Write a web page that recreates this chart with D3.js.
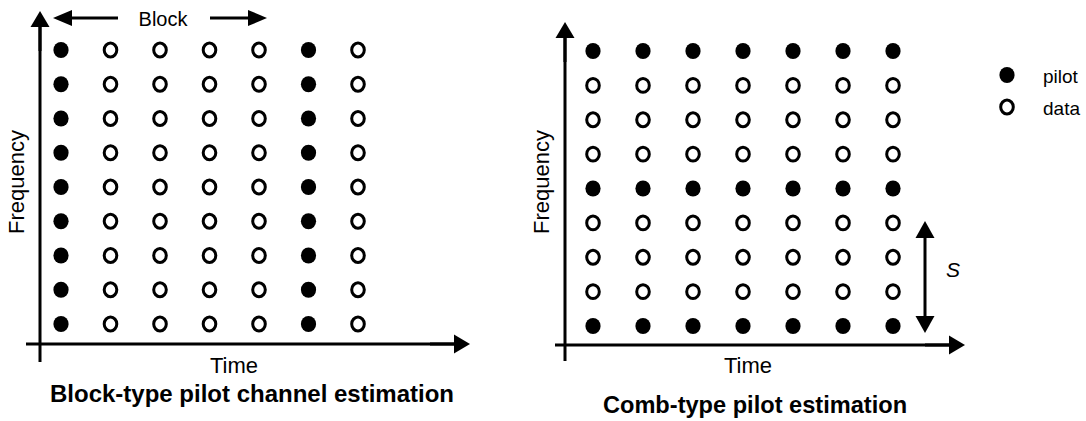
<!DOCTYPE html>
<html>
<head>
<meta charset="utf-8">
<script src="https://cdn.jsdelivr.net/npm/d3@7"></script>
<style>
  body { margin: 0; background: #fff; }
  svg { display: block; font-family: "Liberation Sans", Arial, sans-serif; }
</style>
</head>
<body>
<svg id="chart" width="1086" height="421"></svg>
<script>
// grid of time slots x frequency subcarriers
var timeSlots = [0, 1, 2, 3, 4, 5, 6];
var freqSlots = [0, 1, 2, 3, 4, 5, 6, 7, 8];
// block-type: whole OFDM symbols carry pilots
var blockPilotSlots = [0, 5];
// comb-type: pilot subcarriers every S
var combPilotRows = [0, 4, 8];
var legendItems = ["pilot", "data"];
var titles = ["Block-type pilot channel estimation", "Comb-type pilot estimation"];

var svg = d3.select("#chart");

function cells(isPilot) {
  var out = [];
  freqSlots.forEach(f => timeSlots.forEach(t => out.push({t: t, f: f, pilot: isPilot(t, f)})));
  return out;
}

function pilotDot(sel) {
  return sel.attr("rx", 7.6).attr("ry", 8).attr("fill", "#000");
}
function dataDot(sel) {
  return sel.attr("rx", 6.3).attr("ry", 6.9)
    .attr("fill", "none").attr("stroke", "#000").attr("stroke-width", 3);
}

function drawDots(g, data, x, y) {
  g.selectAll("ellipse.pilot")
    .data(data.filter(d => d.pilot))
    .enter().append("ellipse")
    .attr("class", "pilot")
    .attr("cx", d => x(d.t))
    .attr("cy", d => y(d.f))
    .call(pilotDot);
  g.selectAll("ellipse.data")
    .data(data.filter(d => !d.pilot))
    .enter().append("ellipse")
    .attr("class", "data")
    .attr("cx", d => x(d.t))
    .attr("cy", d => y(d.f))
    .call(dataDot);
}

// arrow from (x1,y1) to tip (x2,y2)
function arrow(g, x1, y1, x2, y2, headLen, headHalf) {
  var dx = x2 - x1, dy = y2 - y1, len = Math.sqrt(dx * dx + dy * dy);
  var ux = dx / len, uy = dy / len;
  var bx = x2 - ux * headLen, by = y2 - uy * headLen;
  g.append("line")
    .attr("x1", x1).attr("y1", y1)
    .attr("x2", bx + ux).attr("y2", by + uy)
    .attr("stroke", "#000").attr("stroke-width", 3);
  g.append("path")
    .attr("d", "M" + x2 + "," + y2 +
      "L" + (bx - uy * headHalf) + "," + (by + ux * headHalf) +
      "L" + (bx + uy * headHalf) + "," + (by - ux * headHalf) + "Z")
    .attr("fill", "#000");
}

function axes(g, ox, oy, top, bottom, left, right) {
  g.append("line")
    .attr("x1", ox).attr("y1", bottom).attr("x2", ox).attr("y2", top + 14)
    .attr("stroke", "#000").attr("stroke-width", 3);
  arrow(g, ox, top + 40, ox, top, 16, 9.5);
  g.append("line")
    .attr("x1", left).attr("y1", oy).attr("x2", right - 14).attr("y2", oy)
    .attr("stroke", "#000").attr("stroke-width", 3);
  arrow(g, right - 40, oy, right, oy, 16, 9.5);
}

// ---------- left panel: block type ----------
var gL = svg.append("g");
var xL = d3.scalePoint().domain(timeSlots).range([61, 358]);
var yL = d3.scalePoint().domain(freqSlots).range([324, 50]);
drawDots(gL, cells((t, f) => blockPilotSlots.includes(t)), xL, yL);
axes(gL, 40, 344, 11, 362, 26, 470);

gL.append("text").attr("x", 234).attr("y", 373)
  .attr("text-anchor", "middle").attr("font-size", 22).text("Time");
gL.append("text").attr("transform", "translate(24,182) rotate(-90)")
  .attr("text-anchor", "middle").attr("font-size", 22).text("Frequency");
gL.append("text").attr("x", 252).attr("y", 402)
  .attr("text-anchor", "middle").attr("font-size", 24).attr("font-weight", "bold")
  .text(titles[0]);

// block width arrows
gL.append("text").attr("x", 163).attr("y", 26)
  .attr("text-anchor", "middle").attr("font-size", 20).text("Block");
arrow(gL, 118, 18, 53, 18, 19, 8);
arrow(gL, 210, 18, 267, 18, 19, 8);

// ---------- right panel: comb type ----------
var gR = svg.append("g");
var xR = d3.scalePoint().domain(timeSlots).range([593, 893]);
var yR = d3.scalePoint().domain(freqSlots).range([326, 51]);
drawDots(gR, cells((t, f) => combPilotRows.includes(f)), xR, yR);
axes(gR, 565, 345, 22, 361, 555, 965);

gR.append("text").attr("x", 748).attr("y", 373)
  .attr("text-anchor", "middle").attr("font-size", 22).text("Time");
gR.append("text").attr("transform", "translate(549,182) rotate(-90)")
  .attr("text-anchor", "middle").attr("font-size", 22).text("Frequency");
gR.append("text").attr("x", 755).attr("y", 413)
  .attr("text-anchor", "middle").attr("font-size", 23.6).attr("font-weight", "bold")
  .text(titles[1]);

// pilot spacing S (double arrow)
var sx = 925;
gR.append("line").attr("x1", sx).attr("y1", 236).attr("x2", sx).attr("y2", 318)
  .attr("stroke", "#000").attr("stroke-width", 3);
gR.append("path").attr("d", "M" + sx + ",221L" + (sx - 9.5) + ",238L" + (sx + 9.5) + ",238Z");
gR.append("path").attr("d", "M" + sx + ",333L" + (sx - 9.5) + ",316L" + (sx + 9.5) + ",316Z");
gR.append("text").attr("x", 946).attr("y", 277)
  .attr("font-size", 21).attr("font-style", "italic").text("S");

// ---------- legend ----------
var legY = d3.scalePoint().domain(legendItems).range([75, 107]);
var leg = svg.append("g");
leg.append("ellipse").attr("cx", 1007).attr("cy", legY("pilot")).call(pilotDot);
leg.append("ellipse").attr("cx", 1007).attr("cy", legY("data")).call(dataDot);
leg.selectAll("text").data(legendItems).enter().append("text")
  .attr("x", 1043).attr("y", d => legY(d) + 8)
  .attr("font-size", 19).text(d => d);
</script>
</body>
</html>
